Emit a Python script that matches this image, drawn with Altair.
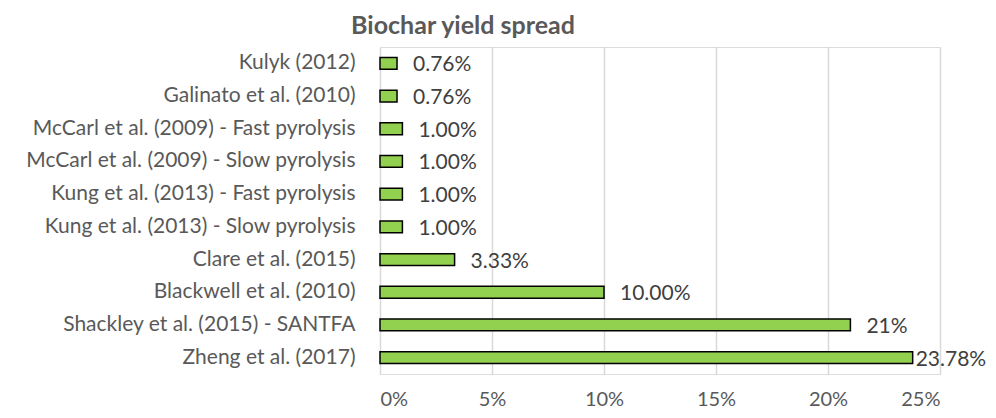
import altair as alt
import pandas as pd

studies = [
    "Kulyk (2012)",
    "Galinato et al. (2010)",
    "McCarl et al. (2009) - Fast pyrolysis",
    "McCarl et al. (2009) - Slow pyrolysis",
    "Kung et al. (2013) - Fast pyrolysis",
    "Kung et al. (2013) - Slow pyrolysis",
    "Clare et al. (2015)",
    "Blackwell et al. (2010)",
    "Shackley et al. (2015) - SANTFA",
    "Zheng et al. (2017)",
]
yields = [0.0076, 0.0076, 0.01, 0.01, 0.01, 0.01, 0.0333, 0.10, 0.21, 0.2378]
labels = ["0.76%", "0.76%", "1.00%", "1.00%", "1.00%", "1.00%", "3.33%", "10.00%", "21%", "23.78%"]
x_ticks = [0, 0.05, 0.10, 0.15, 0.20, 0.25]

df = pd.DataFrame({"study": studies, "yield": yields, "label": labels})

FONT = "Lato"
GRAY = "#595959"

x_enc = alt.X(
    "yield:Q",
    scale=alt.Scale(domain=[0, 0.25], nice=False),
    axis=alt.Axis(
        values=x_ticks, format=".0%", title=None, domain=False, ticks=False,
        grid=True, gridColor="#d9d9d9", gridWidth=1.5,
        labelFont=FONT, labelFontSize=20, labelColor=GRAY, labelPadding=15,
    ),
)
y_enc = alt.Y(
    "study:N",
    sort=studies,
    scale=alt.Scale(paddingInner=0.64, paddingOuter=0.32),
    axis=alt.Axis(
        title=None, domain=False, ticks=False, grid=False,
        labelFont=FONT, labelFontSize=21, labelColor=GRAY, labelPadding=25,
        labelLimit=400,
    ),
)

base = alt.Chart(df)

bars = base.mark_bar(color="#92D050", stroke="black", strokeWidth=1.5).encode(
    x=x_enc, y=y_enc
)

text_main = base.transform_filter("datum.yield < 0.23").mark_text(
    align="left", baseline="middle", dx=16, dy=2, font=FONT, fontSize=21, color="#404040"
).encode(x="yield:Q", y=alt.Y("study:N", sort=studies), text="label:N")

text_last = base.transform_filter("datum.yield >= 0.23").mark_text(
    align="left", baseline="middle", dx=3, dy=2, font=FONT, fontSize=21, color="#404040"
).encode(x="yield:Q", y=alt.Y("study:N", sort=studies), text="label:N")

chart = alt.layer(bars, text_main, text_last).properties(
    width=560,
    height=327,
    title=alt.TitleParams(
        "Biochar yield spread", anchor="middle", dx=-197, offset=8,
        font=FONT, fontSize=25, fontWeight="bold", color=GRAY,
    ),
    autosize=alt.AutoSizeParams(type="none"),
    padding={"left": 372, "top": 39, "right": 48, "bottom": 36},
).configure_view(stroke=None).configure(background="white")

chart.save("out.html", embed_options={"renderer": "svg", "actions": False})
